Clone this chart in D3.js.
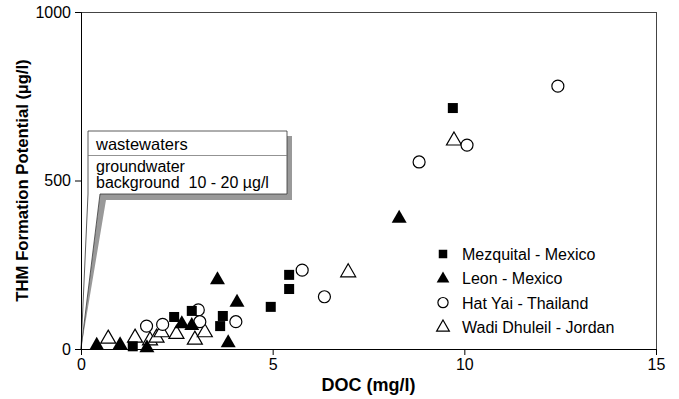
<!DOCTYPE html>
<html><head><meta charset="utf-8">
<script src="https://cdn.jsdelivr.net/npm/d3@7"></script>
<style>body{margin:0;background:#fff}svg{display:block}text{font-family:"Liberation Sans",Arial,sans-serif;white-space:pre}</style>
</head><body><svg id="c" width="679" height="399"></svg>
<script>
const xTicks = [0, 5, 10, 15];
const yTicks = [0, 500, 1000];
const seriesNames = ["Mezquital - Mexico", "Leon - Mexico", "Hat Yai - Thailand", "Wadi Dhuleil - Jordan"];
const mezquital = [[9.7,715],[5.43,220],[5.43,178],[4.95,125],[3.7,98],[3.63,68],[2.43,95],[2.89,113],[1.35,8]];
const leon = [[8.3,389],[3.56,207],[4.07,140],[3.84,20],[2.63,76],[2.89,71],[0.41,12],[1.02,14],[1.72,5]];
const hatyai = [[12.44,780],[8.82,555],[10.07,605],[5.77,234],[6.35,155],[4.04,81],[1.71,68],[2.13,73],[3.06,116],[3.1,81]];
const wadi = [[9.73,620],[6.97,229],[0.71,32],[1.41,35],[1.8,27],[1.97,35],[2.1,51],[2.49,46],[2.97,29],[3.23,51]];
const calloutLines = ["wastewaters", "groundwater", "background  10 - 20 µg/l"];

const svg = d3.select("#c");
const L=81, R=656, T=12, B=349;
const x = d3.scaleLinear().domain([0,15]).range([L,R]);
const y = d3.scaleLinear().domain([0,1000]).range([B,T]);

// frame
svg.append("line").attr("x1",L).attr("x2",R).attr("y1",T+0.5).attr("y2",T+0.5).attr("stroke","#444").attr("stroke-width",1);
svg.append("line").attr("x1",R+0.5).attr("x2",R+0.5).attr("y1",T).attr("y2",B).attr("stroke","#444").attr("stroke-width",1);

// callout
const ox = x(0), oy = y(0);
const bx0=88, bx1=287, by0=131, by1=194, div=155;
svg.append("polygon").attr("points",[[ox,oy],[106,200],[292,200],[292,136],[287,136],[287,194],[100,194]].map(p=>p.join(",")).join(" "))
  .attr("fill","#999").attr("stroke","none");
svg.append("polygon").attr("points",[[ox,oy],[bx0,by1],[bx0,by0],[bx1,by0],[bx1,by1],[100,by1]].map(p=>p.join(",")).join(" "))
  .attr("fill","#fff").attr("stroke","#333").attr("stroke-width",0.8);
svg.append("line").attr("x1",bx0).attr("x2",bx1).attr("y1",div+0.5).attr("y2",div+0.5).attr("stroke","#777").attr("stroke-width",0.8);
svg.append("text").attr("x",96).attr("y",150).attr("font-size",16.5).text(calloutLines[0]);
const ct = svg.append("text").attr("x",96).attr("y",172).attr("font-size",16).attr("xml:space","preserve");
ct.append("tspan").attr("x",96).attr("y",172).text(calloutLines[1]);
ct.append("tspan").attr("x",96).attr("y",188).text(calloutLines[2]);

// axes
const fmt = d3.format("d");
const xa = svg.append("g").attr("transform",`translate(0,${B})`).call(d3.axisBottom(x).tickValues(xTicks).tickFormat(fmt).tickSize(6).tickPadding(4));
const ya = svg.append("g").attr("transform",`translate(${L},0)`).call(d3.axisLeft(y).tickValues(yTicks).tickFormat(fmt).tickSize(6).tickPadding(4));
[xa,ya].forEach(a=>{a.select(".domain").attr("stroke","#000");a.selectAll(".tick line").attr("stroke","#000");
  a.selectAll("text").attr("font-size",16).attr("fill","#000").attr("font-family","Liberation Sans, Arial, sans-serif");});
ya.selectAll(".tick").filter(d=>d===0).append("line").attr("x1",0).attr("x2",6).attr("stroke","#000");

svg.append("text").attr("x",(L+R)/2).attr("y",391).attr("text-anchor","middle").attr("font-size",18).attr("font-weight","bold").text("DOC (mg/l)");
svg.append("text").attr("transform",`translate(28,${(T+B)/2}) rotate(-90)`).attr("text-anchor","middle").attr("font-size",16.7).attr("font-weight","bold").text("THM Formation Potential (µg/l)");

// markers
function tri(s){const h=s*0.87;return `M0,${-h*0.62}L${s/2},${h*0.38}L${-s/2},${h*0.38}Z`;}
function mark(g,kind,cx,cy,sc){
  if(kind===0) g.append("rect").attr("x",cx-5*sc).attr("y",cy-5*sc).attr("width",10*sc).attr("height",10*sc).attr("fill","#000");
  else if(kind===1) g.append("path").attr("d",tri(15*sc)).attr("transform",`translate(${cx},${cy})`).attr("fill","#000");
  else if(kind===2) g.append("circle").attr("cx",cx).attr("cy",cy).attr("r",6*sc).attr("fill","#fff").attr("stroke","#000").attr("stroke-width",1.2);
  else g.append("path").attr("d",tri(15*sc)).attr("transform",`translate(${cx},${cy})`).attr("fill","#fff").attr("stroke","#000").attr("stroke-width",1.2);
}
function drawSeries(data, kind, g){ data.forEach(d=>mark(g,kind,x(d[0]),y(d[1]),1)); }
const pg = svg.append("g");
drawSeries(wadi,3,pg);
drawSeries(hatyai,2,pg);
drawSeries(leon,1,pg);
drawSeries(mezquital,0,pg);

// legend
const lg = svg.append("g");
seriesNames.forEach((n,i)=>{
  const ly = 254 + i*24.3;
  mark(lg,i,443,ly,0.85);
  lg.append("text").attr("x",462).attr("y",ly+6).attr("font-size",16).text(n);
});
</script></body></html>
